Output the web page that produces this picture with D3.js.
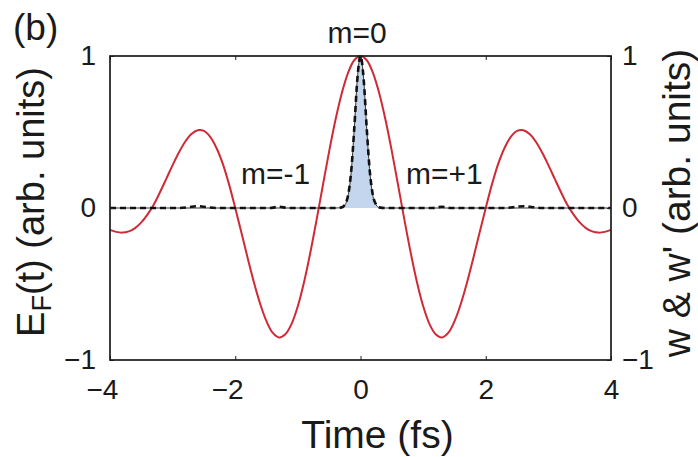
<!DOCTYPE html>
<html>
<head>
<meta charset="utf-8">
<script src="https://cdn.jsdelivr.net/npm/d3@7"></script>
<style>
  body { margin: 0; background: #fff; }
  text { font-family: "Liberation Sans", Arial, Helvetica, sans-serif; fill: #1a1a1a; }
</style>
</head>
<body>
<svg id="chart" width="698" height="457"></svg>
<script>
// time grid (fs) and driving field E_F(t)
const fieldTime = [-4, -3.9, -3.8, -3.7, -3.6, -3.5, -3.4, -3.3, -3.2, -3.1, -3, -2.9, -2.8, -2.7, -2.6, -2.5, -2.4, -2.3, -2.2, -2.1,
  -2, -1.9, -1.8, -1.7, -1.6, -1.5, -1.4, -1.3, -1.2, -1.1, -1, -0.9, -0.8, -0.7, -0.6, -0.5, -0.4, -0.3, -0.2, -0.1,
  0, 0.1, 0.2, 0.3, 0.4, 0.5, 0.6, 0.7, 0.8, 0.9, 1, 1.1, 1.2, 1.3, 1.4, 1.5, 1.6, 1.7, 1.8, 1.9,
  2, 2.1, 2.2, 2.3, 2.4, 2.5, 2.6, 2.7, 2.8, 2.9, 3, 3.1, 3.2, 3.3, 3.4, 3.5, 3.6, 3.7, 3.8, 3.9, 4];
const fieldValue = [-0.144, -0.157, -0.162, -0.154, -0.132, -0.095, -0.042, 0.023, 0.105, 0.193, 0.282, 0.365, 0.436, 0.487, 0.512, 0.507, 0.468, 0.395, 0.292, 0.157,
  0, -0.164, -0.332, -0.492, -0.633, -0.746, -0.822, -0.852, -0.831, -0.762, -0.645, -0.485, -0.291, -0.075, 0.151, 0.374, 0.579, 0.754, 0.888, 0.972,
  1, 0.972, 0.888, 0.754, 0.579, 0.374, 0.151, -0.075, -0.291, -0.485, -0.645, -0.762, -0.831, -0.852, -0.822, -0.746, -0.633, -0.492, -0.332, -0.164,
  0, 0.157, 0.292, 0.395, 0.468, 0.507, 0.512, 0.487, 0.436, 0.365, 0.282, 0.193, 0.105, 0.023, -0.042, -0.095, -0.132, -0.154, -0.162, -0.157, -0.144];

// w (blue filled) - narrow burst at t = 0
const wTime = [-4, -0.4, -0.3, -0.25, -0.2, -0.15, -0.1, -0.05, 0, 0.05, 0.1, 0.15, 0.2, 0.25, 0.3, 0.4, 4];
const wValue = [0, 0, 0.003, 0.02, 0.075, 0.23, 0.52, 0.85, 1, 0.85, 0.52, 0.23, 0.075, 0.02, 0.003, 0, 0];

// w' (black dashed) - same burst plus tiny m=-1 / m=+1 bumps
const wpTime = [-4, -2.9, -2.7, -2.6, -2.5, -2.3, -1.45, -1.3, -1.15, -0.4, -0.3, -0.25, -0.2, -0.15, -0.1, -0.05, 0,
  0.05, 0.1, 0.15, 0.2, 0.25, 0.3, 0.4, 1.15, 1.3, 1.45, 2.3, 2.5, 2.6, 2.7, 2.9, 4];
const wpValue = [0, 0, 0.008, 0.012, 0.008, 0, 0, 0.008, 0, 0, 0.004, 0.022, 0.08, 0.235, 0.52, 0.85, 1,
  0.85, 0.52, 0.235, 0.08, 0.022, 0.004, 0, 0, 0.008, 0, 0, 0.008, 0.012, 0.008, 0, 0];

const xTicks = [-4, -2, 0, 2, 4];
const yTicks = [-1, 0, 1];

const svg = d3.select('#chart');
const mLeft = 110, mRight = 611, mTop = 56, mBottom = 360;

const x = d3.scaleLinear().domain([-4, 4]).range([mLeft, mRight]);
const y = d3.scaleLinear().domain([-1, 1]).range([mBottom, mTop]);

const fmt = (d) => (d < 0 ? '\u2212' + Math.abs(d) : '' + d);

// blue area for w
svg.append('path')
  .datum(wTime.map((t, i) => [t, wValue[i]]))
  .attr('fill', '#c3d6ee')
  .attr('d', d3.area().x(d => x(d[0])).y0(y(0)).y1(d => y(d[1])).curve(d3.curveMonotoneX));

// red field
svg.append('path')
  .datum(fieldTime.map((t, i) => [t, fieldValue[i]]))
  .attr('fill', 'none')
  .attr('stroke', '#cf2a35')
  .attr('stroke-width', 2)
  .attr('d', d3.line().x(d => x(d[0])).y(d => y(d[1])).curve(d3.curveCatmullRom));

// w outline
svg.append('path')
  .datum(wTime.map((t, i) => [t, wValue[i]]))
  .attr('fill', 'none')
  .attr('stroke', '#333')
  .attr('stroke-width', 1)
  .attr('d', d3.line().x(d => x(d[0])).y(d => y(d[1])).curve(d3.curveMonotoneX));

// w' dashed
svg.append('path')
  .datum(wpTime.map((t, i) => [t, wpValue[i]]))
  .attr('fill', 'none')
  .attr('stroke', '#111')
  .attr('stroke-width', 2.6)
  .attr('stroke-dasharray', '6,4')
  .attr('d', d3.line().x(d => x(d[0])).y(d => y(d[1])).curve(d3.curveMonotoneX));

// axes (inner ticks)
const gx = svg.append('g').attr('transform', 'translate(0,' + mBottom + ')')
  .call(d3.axisBottom(x).tickValues(xTicks).tickSizeInner(-4).tickSizeOuter(0).tickPadding(19).tickFormat(fmt));
gx.selectAll('text').filter(d => d < 0).attr('dx', '-0.29em');

svg.append('g').attr('transform', 'translate(0,' + mTop + ')')
  .call(d3.axisTop(x).tickValues(xTicks).tickSizeInner(-4).tickSizeOuter(0).tickFormat(''));

svg.append('g').attr('transform', 'translate(' + mLeft + ',0)')
  .call(d3.axisLeft(y).tickValues(yTicks).tickSizeInner(-4).tickSizeOuter(0).tickPadding(14).tickFormat(fmt));

svg.append('g').attr('transform', 'translate(' + mRight + ',0)')
  .call(d3.axisRight(y).tickValues(yTicks).tickSizeInner(-4).tickSizeOuter(0).tickPadding(11).tickFormat(fmt));

svg.selectAll('g').attr('font-family', null).attr('font-size', null);
svg.selectAll('.tick text').attr('font-size', 28);
svg.selectAll('.tick line').attr('stroke', '#222');
svg.selectAll('.domain').remove();

svg.append('rect')
  .attr('x', mLeft).attr('y', mTop)
  .attr('width', mRight - mLeft).attr('height', mBottom - mTop)
  .attr('fill', 'none').attr('stroke', '#1a1a1a').attr('stroke-width', 1.7);

// labels
svg.append('text').attr('x', 13).attr('y', 40).attr('font-size', 37).text('(b)');

svg.append('text').attr('x', 357).attr('y', 43).attr('font-size', 30)
  .attr('text-anchor', 'middle').text('m=0');
svg.append('text').attr('x', 241).attr('y', 184).attr('font-size', 30).text('m=-1');
svg.append('text').attr('x', 406).attr('y', 184).attr('font-size', 30).text('m=+1');

svg.append('text').attr('x', (mLeft + mRight) / 2 + 17).attr('y', 448)
  .attr('font-size', 39).attr('text-anchor', 'middle').text('Time (fs)');

const yl = svg.append('text')
  .attr('transform', 'translate(44,202) rotate(-90)')
  .attr('font-size', 38).attr('text-anchor', 'middle');
yl.append('tspan').text('E');
yl.append('tspan').attr('font-size', 27).attr('dy', 7).text('F');
yl.append('tspan').attr('dy', -7).text('(t) (arb. units)');

svg.append('text')
  .attr('transform', 'translate(690,203) rotate(-90)')
  .attr('font-size', 39).attr('text-anchor', 'middle')
  .text("w & w' (arb. units)");
</script>
</body>
</html>
